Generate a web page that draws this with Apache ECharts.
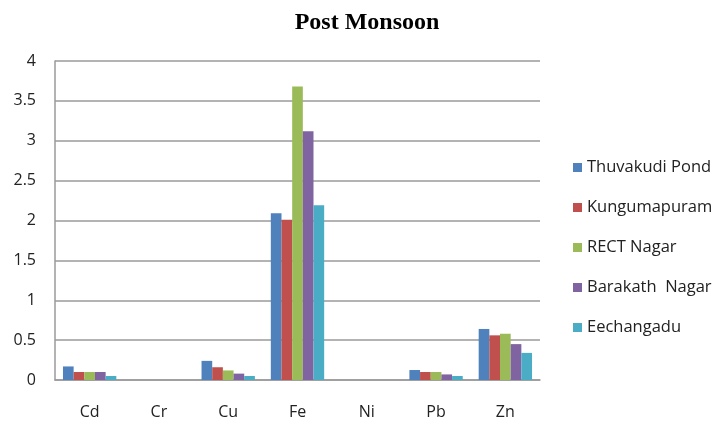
<!DOCTYPE html>
<html>
<head>
<meta charset="utf-8">
<script src="https://cdn.jsdelivr.net/npm/echarts@6/dist/echarts.min.js"></script>
<style>
  html, body { margin: 0; padding: 0; background: #fff; }
  #chart { width: 722px; height: 423px; }
</style>
</head>
<body>
<div id="chart"></div>
<script>
var metals = ['Cd', 'Cr', 'Cu', 'Fe', 'Ni', 'Pb', 'Zn'];
var sites = ['Thuvakudi Pond', 'Kungumapuram', 'RECT Nagar', 'Barakath  Nagar', 'Eechangadu'];
var thuvakudi = [0.17, 0, 0.24, 2.09, 0, 0.125, 0.64];
var kungumapuram = [0.10, 0, 0.16, 2.01, 0, 0.10, 0.56];
var rectNagar = [0.10, 0, 0.12, 3.68, 0, 0.10, 0.58];
var barakath = [0.10, 0, 0.08, 3.12, 0, 0.07, 0.45];
var eechangadu = [0.05, 0, 0.05, 2.19, 0, 0.05, 0.34];
var colors = ['#4F81BD', '#C0504D', '#9BBB59', '#8064A2', '#4BACC6'];

var values = [thuvakudi, kungumapuram, rectNagar, barakath, eechangadu];

var chart = echarts.init(document.getElementById('chart'), null, { renderer: 'canvas' });
chart.setOption({
  animation: false,
  color: colors,
  title: {
    text: 'Post Monsoon',
    left: 362,
    textAlign: 'center',
    top: 6,
    textStyle: { fontFamily: 'Liberation Serif', fontWeight: 'bold', fontSize: 24, color: '#000' }
  },
  legend: {
    orient: 'vertical',
    left: 568,
    top: 154,
    itemWidth: 9,
    itemHeight: 9,
    itemGap: 23,
    icon: 'rect',
    textStyle: { fontFamily: 'Open Sans', fontSize: 16.5, color: '#222' },
    data: sites
  },
  grid: { left: 55, right: 182, top: 61, bottom: 43 },
  xAxis: {
    type: 'category',
    data: metals,
    axisLine: { lineStyle: { color: '#9a9a9a', width: 1.5 } },
    axisTick: { show: false },
    axisLabel: { color: '#222', fontFamily: 'Open Sans', fontSize: 16, margin: 24 }
  },
  yAxis: {
    type: 'value',
    min: 0,
    max: 4,
    interval: 0.5,
    axisLine: { show: true, lineStyle: { color: '#9a9a9a', width: 1.5 } },
    axisTick: { show: false },
    axisLabel: { color: '#222', fontFamily: 'Open Sans', fontSize: 16, margin: 19 },
    splitLine: { lineStyle: { color: '#9a9a9a', width: 1.5 } }
  },
  series: sites.map(function(name, i) {
    return {
      name: name,
      type: 'bar',
      data: values[i],
      barGap: 0,
      barCategoryGap: '23%'
    };
  })
});
</script>
</body>
</html>
